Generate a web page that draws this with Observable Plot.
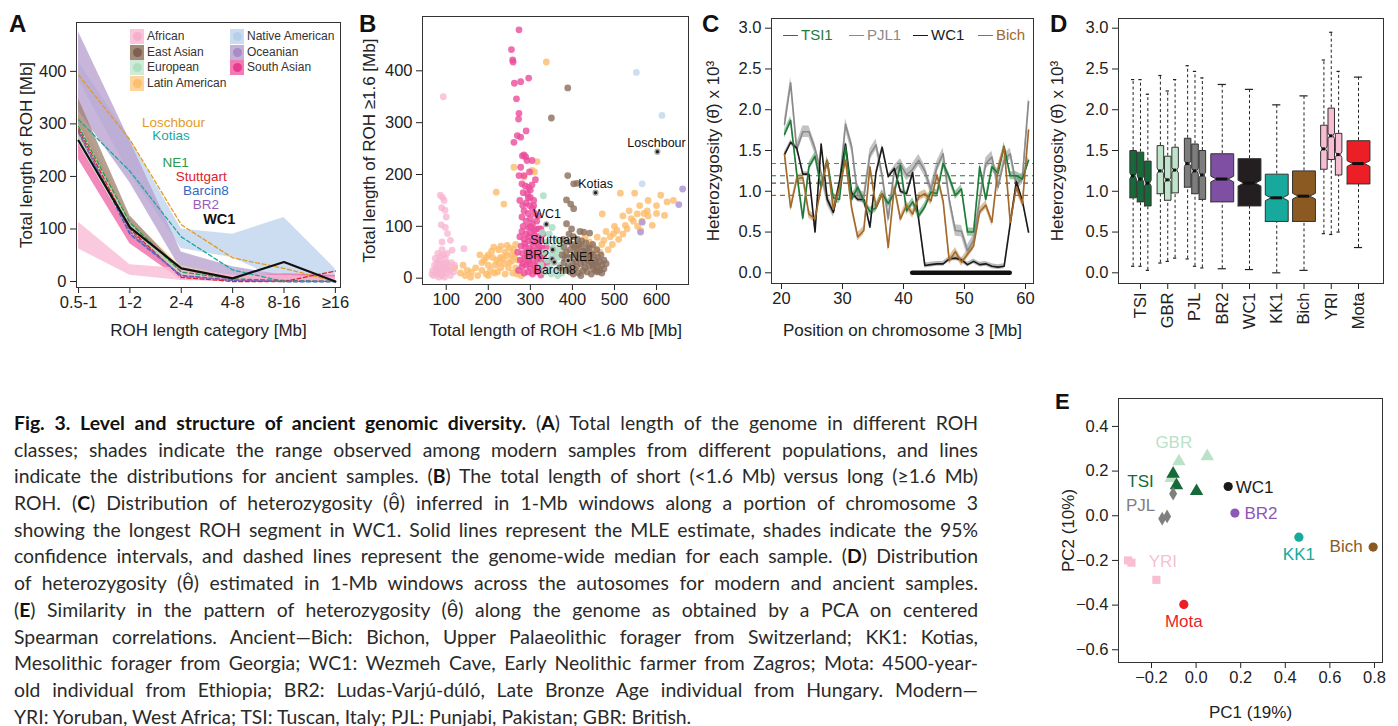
<!DOCTYPE html>
<html><head><meta charset="utf-8">
<script src="https://cdn.jsdelivr.net/npm/d3@7"></script>
<script src="https://cdn.jsdelivr.net/npm/@observablehq/plot@0.6"></script>
<style>
body{margin:0;background:#fff;width:1398px;height:726px;overflow:hidden;position:relative;font-family:"Liberation Sans",Arial,sans-serif;}
.plab{position:absolute;font-weight:bold;font-size:24px;line-height:24px;color:#111;}
#caption{position:absolute;left:14px;top:410px;width:964px;font-family:Lato,"Open Sans",sans-serif;font-size:19.4px;color:#2a2a2a;}
.cl{height:26.7px;line-height:26.7px;white-space:nowrap;}
.cl b{color:#111;}
.lg{position:absolute;font-size:12px;color:#333;line-height:15px;white-space:nowrap;}
.sw{position:absolute;width:14px;height:15px;}
.sw i{position:absolute;left:2.5px;top:3px;width:9px;height:9px;border-radius:50%;}
.cleg{position:absolute;font-size:15px;line-height:18px;white-space:nowrap;}
.cleg span{display:inline-block;width:15px;height:0;border-top:1.6px solid;vertical-align:middle;margin-right:3px;position:relative;top:-1px;}
</style></head>
<body>
<script>
// ---------------- Panel A data ----------------
const rohCats = ["0.5-1","1-2","2-4","4-8","8-16","≥16"];
const modernPops = ["Native American","Oceanian","Latin American","East Asian","European","South Asian","African"];
const modernFill = ["#c6d9ef","#b9a2d1","#fdd59a","#9d8070","#c3e6d0","#f06ca9","#f9bcd6"];
const modernOpacity = [0.9,0.8,0.6,0.75,0.7,0.8,0.8];
const modernLow = [
 [383,205,63,45,0,0],
 [325,188,22,3,0,0],
 [270,90,8,0,0,0],
 [272,95,6,0,0,0],
 [262,88,5,0,0,0],
 [232,72,3,0,0,0],
 [62,12,2,0,0,0]];
const modernHigh = [
 [418,272,100,90,122,24],
 [475,268,56,28,12,4],
 [318,120,30,10,5,2],
 [348,125,22,8,4,2],
 [300,112,18,5,3,2],
 [262,95,12,8,15,12],
 [113,32,25,12,12,8]];
const ancientNames = ["Loschbour","Kotias","NE1","Stuttgart","Barcin8","BR2","WC1"];
const ancientColors = ["#e39b21","#1aa99c","#2b9a49","#e0212b","#3068c6","#9a5bb8","#111111"];
const ancientROH = [
 [393,270,108,45,25,0],
 [308,210,85,22,0,0],
 [295,112,18,5,2,0],
 [290,100,8,0,0,20],
 [285,90,12,2,0,0],
 [283,95,10,3,0,0],
 [268,103,25,6,37,0]];
const ancientLabelX = [1.85,1.80,1.89,2.39,2.48,2.48,2.74];
const ancientLabelY = [303,277,226,199,172,147,119];
const legendNames = ["African","East Asian","European","Latin American","Native American","Oceanian","South Asian"];
const legendFill = ["#f9c6dc","#a58a78","#cdebd7","#fdd49e","#cbdcf0","#c4b0d8","#f27bb4"];
const legendDot = ["#f6b0cc","#7d6050","#b0dfc0","#fbbf6e","#b8cfea","#a98bc6","#e83b8f"];

// ---------------- Panel B data ----------------
const bAfrican = [[93,350],[86,160],[91,156],[95,150],[89,136],[97,131],[100,118],[98,98],[110,73],[142,57],[88,103],[103,86],[90,70],[114,54],[70,5],[75,12],[80,8],[85,20],[90,5],[95,15],[100,10],[105,25],[110,5],[72,25],[78,30],[84,35],[92,28],[98,38],[104,18],[68,15],[88,12],[96,2],[82,2],[76,20],[86,42],[94,45],[100,30],[108,15],[74,38],[80,48],[90,55],[66,8],[112,30],[118,12],[120,25],[102,48],[84,28],[92,20],[79,15],[97,22]];
const bLatin = [[338,417],[316,225],[304,208],[310,205],[261,214],[285,195],[219,166],[237,143],[514,164],[548,164],[625,147],[619,121],[578,130],[554,124],[562,92],[590,102],[526,102],[506,92],[475,73],[498,86],[459,79],[471,124],[419,66],[540,115],[565,110],[580,120],[530,95],[490,80],[470,65],[450,60],[520,85],[555,100],[600,125],[570,125],[545,110],[510,75],[485,55],[440,70],[465,50],[430,80],[134,10],[150,15],[158,2],[170,20],[185,30],[190,34],[200,25],[210,40],[213,60],[220,35],[229,40],[240,50],[245,63],[250,30],[255,45],[260,55],[265,20],[270,35],[230,20],[215,10],[195,8],[175,5],[205,15],[240,8],[225,55],[258,10],[180,45],[140,25],[120,20],[225,30],[200,45],[235,38],[248,20],[262,42],[268,8],[252,58],[208,52],[195,40],[222,12],[238,28],[256,33],[244,43],[216,25],[230,62],[265,65],[185,15],[160,12],[145,5],[278,5],[200,5],[500,100],[520,120],[535,130],[560,140],[580,150],[600,140],[610,160],[640,150],[495,65],[480,90]];
const bSouthAsian = [[273,479],[255,441],[258,421],[259,417],[262,376],[277,379],[296,386],[267,346],[273,318],[272,307],[269,275],[277,272],[261,262],[290,284],[285,238],[281,236],[289,234],[277,214],[292,227],[304,227],[273,198],[285,198],[280,182],[288,178],[296,175],[304,180],[293,163],[300,156],[308,150],[283,165],[275,150],[290,145],[298,140],[305,135],[285,130],[295,125],[310,125],[280,118],[300,115],[290,110],[315,110],[305,105],[283,100],[295,98],[320,95],[280,90],[290,85],[300,88],[310,82],[320,80],[330,85],[285,75],[295,72],[305,70],[315,68],[325,72],[278,62],[288,60],[298,58],[308,62],[318,55],[328,58],[282,48],[292,50],[302,45],[312,48],[322,42],[332,45],[276,35],[286,38],[296,33],[306,36],[316,30],[326,34],[280,22],[290,25],[300,20],[310,24],[320,18],[330,22],[285,10],[295,12],[305,8],[315,12],[325,6],[335,15],[272,15],[340,30],[270,50],[338,60],[275,80],[298,28],[312,15],[322,60],[287,67],[303,53],[293,40],[317,40],[283,28],[309,92],[297,80],[300,100],[312,95],[325,95],[318,120],[308,140],[295,155],[282,140],[300,170],[312,190],[298,205]];
const bEuropean = [[331,159],[352,98],[345,85],[360,75],[340,70],[355,60],[370,55],[335,50],[350,45],[365,40],[380,45],[340,35],[355,30],[370,25],[345,20],[360,15],[375,10],[350,8],[335,12],[365,5],[382,20],[325,25],[328,88],[372,68],[358,50]];
const bEastAsian = [[389,367],[350,309],[389,198],[403,182],[411,183],[386,151],[396,143],[403,134],[427,89],[441,87],[386,105],[380,60],[390,70],[400,65],[410,55],[420,60],[430,50],[440,58],[450,45],[460,40],[375,45],[385,50],[395,40],[405,45],[415,38],[425,42],[435,35],[445,30],[455,28],[465,32],[380,30],[390,25],[400,30],[410,22],[420,28],[430,20],[440,24],[450,18],[460,22],[470,25],[385,15],[395,12],[405,18],[415,10],[425,15],[435,12],[445,8],[455,14],[392,85],[402,80],[412,75],[422,72],[432,68],[398,95],[378,75],[418,90],[448,65],[458,55],[468,45],[475,35],[370,20],[388,40],[408,32],[428,30],[438,45],[412,48],[442,40],[395,55],[405,60],[415,65],[425,52],[435,58],[445,48],[455,35],[465,15],[475,18],[382,38],[392,18],[402,8],[420,5],[432,40],[448,25],[460,12],[470,10],[480,28]];
const bNative = [[552,397],[613,314],[566,182]];
const bOceanian = [[662,172],[653,142],[566,108],[562,89]];
const bAncientNames = ["Loschbour","Kotias","WC1","Stuttgart","BR2","Barcin8","NE1"];
const bAncientX = [602,455,338,353,352,357,390];
const bAncientY = [244,165,104,55,37,31,34];
const bLabelX = [600,455,340,356,316,358,423];
const bLabelY = [260,182,123,74,44,16,40];

// ---------------- Panel C data ----------------
const windowMid = [20.5,21.5,22.5,23.5,24.5,25.5,26.5,27.5,28.5,29.5,30.5,31.5,32.5,33.5,34.5,35.5,36.5,37.5,38.5,39.5,40.5,41.5,42.5,43.5,44.5,45.5,46.5,47.5,48.5,49.5,50.5,51.5,52.5,53.5,54.5,55.5,56.5,57.5,58.5,59.5,60.5];
const hetTSI1 = [1.70,1.87,1.22,0.67,1.30,1.43,1.05,1.38,0.92,0.90,1.55,0.90,1.05,0.88,0.75,0.80,0.97,0.85,0.98,1.32,0.76,0.87,0.70,0.81,0.99,0.97,1.34,1.17,0.95,1.03,0.50,0.50,1.30,0.90,1.30,1.22,1.55,1.19,1.19,1.15,1.38];
const hetPJL1 = [1.82,2.33,1.52,1.73,1.73,1.52,1.22,0.90,0.75,1.05,1.82,1.55,0.95,0.92,1.45,1.57,1.20,0.66,1.25,1.33,1.20,1.27,1.38,1.25,1.02,1.30,1.46,0.90,0.52,0.51,0.27,0.40,0.90,1.34,1.42,1.05,1.38,1.46,1.08,1.16,2.10];
const hetWC1 = [1.45,1.60,1.53,1.21,1.21,0.50,1.58,0.90,0.74,1.12,1.58,0.98,0.90,0.90,0.56,1.23,1.54,1.18,1.28,1.00,0.97,1.23,0.65,0.09,0.10,0.11,0.11,0.17,0.18,0.16,0.10,0.14,0.10,0.11,0.08,0.07,0.08,0.60,1.12,0.88,0.50];
const hetBich = [1.45,0.80,1.15,1.17,0.72,0.66,1.05,1.38,0.78,1.05,1.38,0.80,0.44,0.52,1.30,0.80,0.97,0.31,1.05,0.66,0.83,0.72,0.93,0.97,0.88,1.20,0.88,0.15,0.26,0.13,0.23,0.33,0.75,0.83,0.62,1.28,1.54,0.62,1.05,0.85,1.75];
const cSeriesNames = ["PJL1","TSI1","WC1","Bich"];
const cSeries = [hetPJL1, hetTSI1, hetWC1, hetBich];
const cLineColors = ["#8a8a8a","#1f7a3a","#1a1a1a","#a2692a"];
const cBandColors = ["#9a9a9a","#5f9e6c","#8a8a8a","#c39a62"];
const cCIHalf = [0.07,0.05,0.03,0.05];
const cMedians = [1.34,1.19,1.10,0.95];
const cMedianColors = ["#777777","#1f7a3a","#555555","#a2692a"];
const rohSegment = [{start: 41.5, end: 57.5}];

// ---------------- Panel D data ----------------
const boxLabels = ["TSI","GBR","PJL","BR2","WC1","KK1","Bich","YRI","Mota"];
const boxColors = ["#17693a","#bfe4c9","#7d7d7d","#7f4fa3","#231f20","#17a99b","#8b5a23","#f8bdd3","#ec1f26"];
const boxGroup = [0,0,0,1,1,1,2,2,2,3,4,5,6,7,7,7,8];
const boxSub   = [-1,0,1,-1,0,1,-1,0,1,0,0,0,0,-1,0,1,0];
const boxLow   = [0.08,0.08,0.03,0.12,0.14,0.18,0.17,0.08,0.06,0.05,0.04,0.00,0.03,0.48,0.47,0.50,0.31];
const boxQ1    = [0.92,0.87,0.82,0.97,0.89,0.98,1.05,0.97,0.90,0.87,0.82,0.63,0.63,1.27,1.39,1.20,1.09];
const boxMed   = [1.19,1.15,1.10,1.25,1.14,1.26,1.34,1.25,1.20,1.15,1.10,0.92,0.94,1.52,1.68,1.45,1.34];
const boxQ3    = [1.50,1.48,1.37,1.56,1.43,1.54,1.65,1.58,1.50,1.46,1.40,1.21,1.25,1.81,2.02,1.71,1.62];
const boxHigh  = [2.37,2.37,2.19,2.42,2.23,2.37,2.54,2.47,2.39,2.31,2.25,2.06,2.17,2.61,2.95,2.47,2.40];
const boxNotch = 0.035;

// ---------------- Panel E data ----------------
const pcaNames = ["GBR","TSI","PJL","YRI","WC1","BR2","KK1","Bich","Mota"];
const pcaSymbols = ["triangle","triangle","diamond","square","circle","circle","circle","circle","circle"];
const pcaColors = ["#b9e2c6","#17693a","#7f7f7f","#f8bfd3","#1a1a1a","#8e56b5","#17a99b","#8b5a23","#ec1f26"];
const pcaPC1 = [[-0.077,0.050,-0.112],[-0.103,-0.088,0.002],[-0.103,-0.152,-0.130],[-0.305,-0.290,-0.178],[0.144],[0.174],[0.461],[0.794],[-0.055]];
const pcaPC2 = [[0.243,0.266,0.169],[0.188,0.136,0.110],[0.099,-0.013,-0.003],[-0.200,-0.210,-0.287],[0.131],[0.012],[-0.096],[-0.140],[-0.397]];
const pcaLabelX = [-0.100,-0.249,-0.249,-0.149,0.178,0.217,0.461,0.673,-0.055];
const pcaLabelY = [0.327,0.151,0.046,-0.204,0.128,0.008,-0.175,-0.140,-0.472];
const pcaLabelAnchor = ["middle","middle","middle","middle","start","start","middle","middle","middle"];

// ---------------- helpers ----------------
const FONT = "'Liberation Sans', Arial, Helvetica, sans-serif";
const baseStyle = {fontFamily: FONT, fontSize: "16.5px", color: "#222", background: "transparent", overflow: "visible"};
function place(node, left, top) {
  node.style.position = "absolute";
  node.style.left = left + "px";
  node.style.top = top + "px";
  node.style.maxWidth = "none";
  document.body.appendChild(node);
}
function html(tag, cls, text, css) {
  const e = document.createElement(tag);
  if (cls) e.className = cls;
  if (text != null) e.innerHTML = text;
  Object.assign(e.style, css || {});
  document.body.appendChild(e);
  return e;
}
const fmt1 = d3.format(".1f");
function xLabel(t, dy) { return Plot.text([t], {frameAnchor: "bottom", dy, fontSize: 17, lineAnchor: "middle", textAnchor: "middle"}); }
function yLabel(t, dx) { return Plot.text([t], {frameAnchor: "left", dx, rotate: -90, fontSize: 17, lineAnchor: "middle", textAnchor: "middle"}); }

// ---------------- Panel A ----------------
const marksA = [];
modernPops.forEach((p, j) => {
  marksA.push(Plot.areaY(rohCats.map((c, i) => ({i, lo: modernLow[j][i], hi: modernHigh[j][i]})),
    {x: "i", y1: "lo", y2: "hi", fill: modernFill[j], fillOpacity: modernOpacity[j]}));
});
ancientNames.forEach((n, j) => {
  const opts = {x: "i", y: "v", stroke: ancientColors[j], strokeWidth: n === "WC1" ? 2.2 : 1.3};
  if (n !== "WC1") opts.strokeDasharray = "4,2.5";
  marksA.push(Plot.line(rohCats.map((c, i) => ({i, v: ancientROH[j][i]})), opts));
  marksA.push(Plot.text([n], {x: () => ancientLabelX[j], y: () => ancientLabelY[j], text: d => d,
    fill: ancientColors[j], fontSize: n === "WC1" ? 14.5 : 13.5, fontWeight: n === "WC1" ? "bold" : "normal"}));
});
marksA.push(Plot.frame({stroke: "#333"}));
marksA.push(xLabel("ROH length category [Mb]", 43));
marksA.push(yLabel("Total length of ROH [Mb]", -50));
const plotA = Plot.plot({
  width: 345, height: 345, marginLeft: 76, marginRight: 5, marginTop: 22, marginBottom: 58,
  x: {domain: [-0.04, 5.1], ticks: [0,1,2,3,4,5], tickFormat: i => rohCats[i], tickSize: 6, tickPadding: 3, label: null},
  y: {domain: [-11.4, 493], ticks: [0,100,200,300,400], tickSize: 6, tickPadding: 4, label: null},
  style: baseStyle, marks: marksA
});
place(plotA, 0, 0);
// legend A
legendNames.forEach((n, k) => {
  const col = k < 4 ? 0 : 1, row = k < 4 ? k : k - 4;
  const sx = col === 0 ? 130 : 230, sy = 29 + row * 15.6;
  html("div", "sw", `<i style="background:${legendDot[k]}"></i>`, {left: sx + "px", top: sy + "px", background: legendFill[k]});
  html("div", "lg", n, {left: (sx + 17) + "px", top: sy + "px"});
});

// ---------------- Panel B ----------------
const bGroups = [
  [bLatin, "#fdbb6a", 0.8], [bAfrican, "#f7b3cf", 0.75], [bSouthAsian, "#ec4b9b", 0.8],
  [bEuropean, "#a9dec2", 0.85], [bEastAsian, "#8b6e5b", 0.8], [bNative, "#c6dbf0", 0.9], [bOceanian, "#b49cd6", 0.9]];
const marksB = [];
bGroups.forEach(([pts, col, op]) => {
  marksB.push(Plot.dot(pts, {x: d => d[0], y: d => d[1], r: 3.4, fill: col, fillOpacity: op}));
});
marksB.push(Plot.dot(bAncientNames, {x: (d, i) => bAncientX[i], y: (d, i) => bAncientY[i], r: 2.4, fill: "#222", stroke: "#aaa", strokeWidth: 1.4}));
marksB.push(Plot.text(bAncientNames, {x: (d, i) => bLabelX[i], y: (d, i) => bLabelY[i], text: d => d, fill: "#111", fontSize: 12.5}));
marksB.push(Plot.frame({stroke: "#333"}));
marksB.push(xLabel("Total length of ROH <1.6 Mb [Mb]", 46));
marksB.push(yLabel("Total length of ROH ≥1.6 [Mb]", -53));
const plotB = Plot.plot({
  width: 345, height: 345, marginLeft: 72, marginRight: 7, marginTop: 16, marginBottom: 61,
  x: {domain: [43.6, 676], ticks: [100,200,300,400,500,600], tickSize: 6, tickPadding: 3, label: null},
  y: {domain: [-12.2, 504.8], ticks: [0,100,200,300,400], tickSize: 6, tickPadding: 4, label: null},
  style: baseStyle, marks: marksB
});
place(plotB, 350, 0);

// ---------------- Panel C ----------------
const marksC = [];
cSeries.forEach((s, j) => {
  marksC.push(Plot.areaY(windowMid.map((x, i) => ({x, lo: s[i] - cCIHalf[j], hi: s[i] + cCIHalf[j]})),
    {x: "x", y1: "lo", y2: "hi", fill: cBandColors[j], fillOpacity: 0.6}));
});
cMedians.forEach((m, j) => {
  marksC.push(Plot.ruleY([m], {stroke: cMedianColors[j], strokeDasharray: "5,4", strokeWidth: 1.1}));
});
const lineOrder = [0, 2, 1, 3];
lineOrder.forEach(j => {
  marksC.push(Plot.line(windowMid.map((x, i) => ({x, v: cSeries[j][i]})), {x: "x", y: "v", stroke: cLineColors[j], strokeWidth: 1.6}));
});
marksC.push(Plot.ruleY(rohSegment, {y: () => 0, x1: "start", x2: "end", stroke: "#111", strokeWidth: 4.5, strokeLinecap: "round"}));
marksC.push(Plot.frame({stroke: "#333"}));
marksC.push(xLabel("Position on chromosome 3 [Mb]", 47));
marksC.push(yLabel("Heterozygosity (θ\u0302) x 10³", -58));
const plotC = Plot.plot({
  width: 350, height: 345, marginLeft: 81, marginRight: 7, marginTop: 18, marginBottom: 62,
  x: {domain: [18.36, 61.31], ticks: [20,30,40,50,60], tickSize: 6, tickPadding: 3, label: null},
  y: {domain: [-0.131, 3.119], ticks: [0,0.5,1,1.5,2,2.5,3], tickFormat: fmt1, tickSize: 6, tickPadding: 4, label: null},
  style: baseStyle, marks: marksC
});
place(plotC, 690, 0);
// legend C
const cLegNames = ["TSI1","PJL1","WC1","Bich"];
const cLegColors = ["#1f7a3a","#8a8a8a","#1a1a1a","#a2692a"];
const cLegLeft = [783, 849, 913, 978];
cLegNames.forEach((n, k) => {
  html("div", "cleg", `<span style="border-color:${cLegColors[k]}"></span>${n}`, {left: cLegLeft[k] + "px", top: "26px", color: cLegColors[k]});
});

// ---------------- Panel D ----------------
const groupCount = boxLabels.map((_, g) => boxGroup.filter(v => v === g).length);
const boxes = boxGroup.map((g, i) => {
  const triple = groupCount[g] > 1;
  return {id: i, x: g + boxSub[i] * 0.27, hw: triple ? 0.12 : 0.42, cap: triple ? 0.06 : 0.15,
    lo: boxLow[i], q1: boxQ1[i], med: boxMed[i], q3: boxQ3[i], hi: boxHigh[i], color: boxColors[g]};
});
const boxPoly = [];
boxes.forEach(b => {
  const n = boxNotch, w = b.hw;
  const pts = [[b.x - w, b.q1], [b.x + w, b.q1], [b.x + w, b.med - n], [b.x + w / 2, b.med], [b.x + w, b.med + n],
    [b.x + w, b.q3], [b.x - w, b.q3], [b.x - w, b.med + n], [b.x - w / 2, b.med], [b.x - w, b.med - n], [b.x - w, b.q1]];
  pts.forEach(p => boxPoly.push({id: b.id, x: p[0], y: p[1], color: b.color}));
});
const marksD = [
  Plot.ruleX(boxes, {x: "x", y1: "q3", y2: "hi", stroke: "#222", strokeDasharray: "3,2.5", strokeWidth: 1}),
  Plot.ruleX(boxes, {x: "x", y1: "lo", y2: "q1", stroke: "#222", strokeDasharray: "3,2.5", strokeWidth: 1}),
  Plot.ruleY(boxes, {y: "hi", x1: d => d.x - d.cap, x2: d => d.x + d.cap, stroke: "#222", strokeWidth: 1.2}),
  Plot.ruleY(boxes, {y: "lo", x1: d => d.x - d.cap, x2: d => d.x + d.cap, stroke: "#222", strokeWidth: 1.2}),
  Plot.line(boxPoly, {x: "x", y: "y", z: "id", fill: "color", stroke: "#333", strokeWidth: 1, curve: "linear"}),
  Plot.ruleY(boxes, {y: "med", x1: d => d.x - d.hw / 2, x2: d => d.x + d.hw / 2, stroke: "#111", strokeWidth: 3}),
  Plot.frame({stroke: "#333"}),
  yLabel("Heterozygosity (θ\u0302) x 10³", -61)
];
const plotD = Plot.plot({
  width: 358, height: 345, marginLeft: 78, marginRight: 15, marginTop: 18, marginBottom: 62,
  x: {domain: [-0.807, 8.917], ticks: [0,1,2,3,4,5,6,7,8], tickFormat: i => boxLabels[i], tickRotate: -90, tickSize: 6, tickPadding: 3, label: null},
  y: {domain: [-0.131, 3.119], ticks: [0,0.5,1,1.5,2,2.5,3], tickFormat: fmt1, tickSize: 6, tickPadding: 4, label: null},
  color: {type: "identity"},
  style: baseStyle, marks: marksD
});
place(plotD, 1040, 0);

// ---------------- Panel E ----------------
const marksE = [];
pcaNames.forEach((n, k) => {
  const pts = pcaPC1[k].map((x, i) => ({x, y: pcaPC2[k][i]}));
  const r = pcaSymbols[k] === "triangle" ? 5 : pcaSymbols[k] === "diamond" ? 4.2 : 4.6;
  marksE.push(Plot.dot(pts, {x: "x", y: "y", symbol: () => pcaSymbols[k], r, fill: pcaColors[k], stroke: "none"}));
  marksE.push(Plot.text([n], {x: () => pcaLabelX[k], y: () => pcaLabelY[k], text: d => d, fill: pcaColors[k], fontSize: 17, textAnchor: pcaLabelAnchor[k]}));
});
marksE.push(Plot.frame({stroke: "#333"}));
marksE.push(xLabel("PC1 (19%)", 50));
marksE.push(yLabel("PC2 (10%)", -50));
const plotE = Plot.plot({
  width: 348, height: 346, marginLeft: 68, marginRight: 16, marginTop: 18, marginBottom: 64,
  x: {domain: [-0.348, 0.836], ticks: [-0.2,0,0.2,0.4,0.6,0.8], tickFormat: fmt1, tickSize: 6, tickPadding: 3, label: null},
  y: {domain: [-0.657, 0.525], ticks: [-0.6,-0.4,-0.2,0,0.2,0.4], tickFormat: fmt1, tickSize: 6, tickPadding: 4, label: null},
  symbol: {type: "identity"},
  style: baseStyle, marks: marksE
});
place(plotE, 1050, 380);

// ---------------- Panel letters ----------------
const panelLetters = ["A","B","C","D","E"];
const letterPos = [[9,12],[359,12],[702,12],[1050,12],[1055,390]];
panelLetters.forEach((L, k) => html("div", "plab", L, {left: letterPos[k][0] + "px", top: letterPos[k][1] + "px", fontSize: L === "E" ? "22px" : "24px"}));

// ---------------- Caption ----------------
const th = "θ\u0302";
const captionLines = [
  "<b>Fig. 3. Level and structure of ancient genomic diversity.</b> (<b>A</b>) Total length of the genome in different ROH",
  "classes; shades indicate the range observed among modern samples from different populations, and lines",
  "indicate the distributions for ancient samples. (<b>B</b>) The total length of short (&lt;1.6 Mb) versus long (≥1.6 Mb)",
  `ROH. (<b>C</b>) Distribution of heterozygosity (${th}) inferred in 1-Mb windows along a portion of chromosome 3`,
  "showing the longest ROH segment in WC1. Solid lines represent the MLE estimate, shades indicate the 95%",
  "confidence intervals, and dashed lines represent the genome-wide median for each sample. (<b>D</b>) Distribution",
  `of heterozygosity (${th}) estimated in 1-Mb windows across the autosomes for modern and ancient samples.`,
  `(<b>E</b>) Similarity in the pattern of heterozygosity (${th}) along the genome as obtained by a PCA on centered`,
  "Spearman correlations. Ancient—Bich: Bichon, Upper Palaeolithic forager from Switzerland; KK1: Kotias,",
  "Mesolithic forager from Georgia; WC1: Wezmeh Cave, Early Neolithic farmer from Zagros; Mota: 4500-year-",
  "old individual from Ethiopia; BR2: Ludas-Varjú-dúló, Late Bronze Age individual from Hungary. Modern—",
  "YRI: Yoruban, West Africa; TSI: Tuscan, Italy; PJL: Punjabi, Pakistan; GBR: British."
];
const cap = html("div", null, null, {}); cap.id = "caption";
captionLines.forEach(t => {
  const d = document.createElement("div"); d.className = "cl";
  const s = document.createElement("span"); s.innerHTML = t; d.appendChild(s); cap.appendChild(d);
});
function justify() {
  const lines = cap.querySelectorAll(".cl span");
  lines.forEach((s, i) => {
    if (i === lines.length - 1) return;
    s.style.wordSpacing = "0px";
    const w = s.getBoundingClientRect().width;
    const n = (s.textContent.match(/ /g) || []).length;
    if (n) s.style.wordSpacing = ((964 - w) / n) + "px";
  });
}
justify();
if (document.fonts) document.fonts.ready.then(justify);
</script>
</body></html>
